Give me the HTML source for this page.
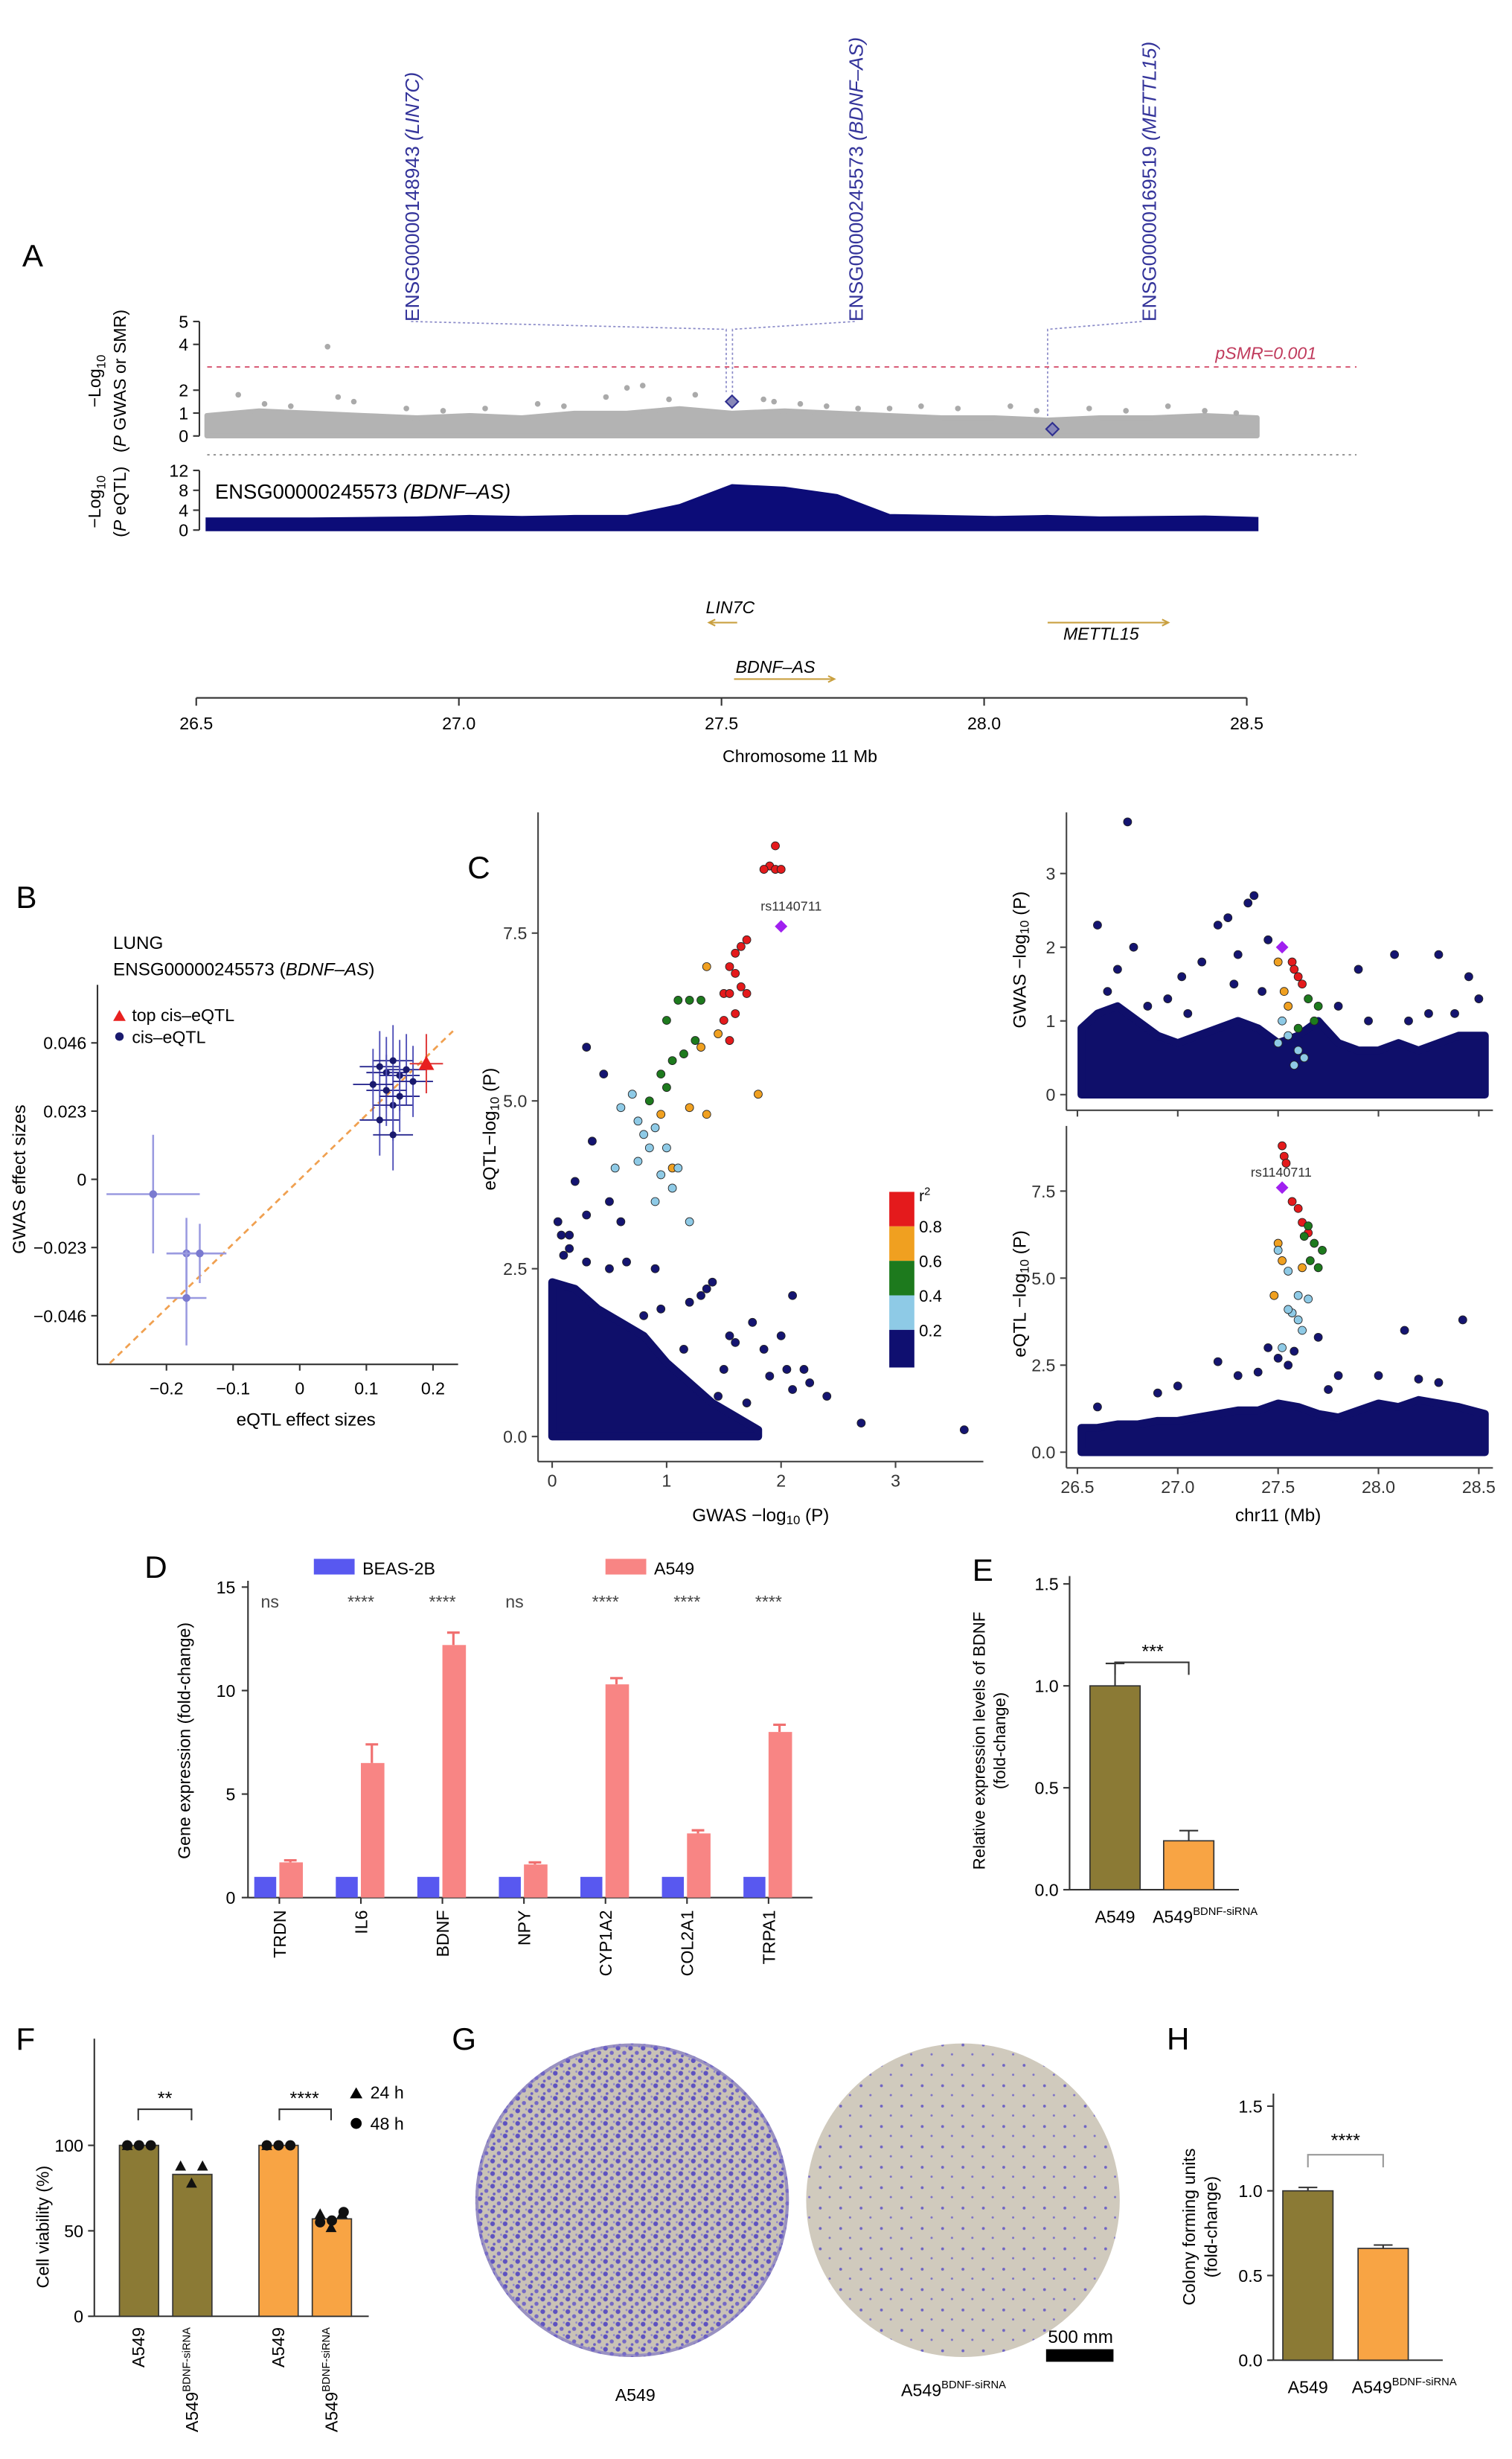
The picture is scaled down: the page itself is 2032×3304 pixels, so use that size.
<!DOCTYPE html>
<html><head><meta charset="utf-8"><style>
html,body{margin:0;padding:0;background:#fff;}
svg{display:block;font-family:"Liberation Sans",Arial,sans-serif;}
</style></head><body>
<svg id="fig" width="2032" height="3304" viewBox="0 0 964 1568" xmlns="http://www.w3.org/2000/svg">
<defs>
<pattern id="dense" width="8" height="8" patternUnits="userSpaceOnUse">
<rect width="8" height="8" fill="#c9c2b6"/><circle cx="2" cy="2" r="1.5" fill="#5e52c0"/><circle cx="6" cy="5" r="1.3" fill="#7468c6"/><circle cx="3" cy="7" r="0.9" fill="#6a5ec4"/><circle cx="7.5" cy="1" r="0.7" fill="#8f86cc"/></pattern>
<pattern id="sparse" width="13" height="13" patternUnits="userSpaceOnUse">
<rect width="13" height="13" fill="#d0cabd"/><circle cx="3" cy="4" r="0.9" fill="#6f64c4"/><circle cx="9" cy="10" r="0.7" fill="#7d72c8"/></pattern>
</defs>

<!-- PANEL A -->
<g>
<text x="14" y="170" font-size="20">A</text>
<g fill="#33339a" font-size="12.5">
<text transform="translate(267,205) rotate(-90)">ENSG00000148943 <tspan font-style="italic">(LIN7C)</tspan></text>
<text transform="translate(550,205) rotate(-90)">ENSG00000245573 <tspan font-style="italic">(BDNF–AS)</tspan></text>
<text transform="translate(737,205) rotate(-90)">ENSG00000169519 <tspan font-style="italic">(METTL15)</tspan></text>
</g>
<g stroke="#8a8ac8" stroke-width="0.8" stroke-dasharray="1.5,1.5" fill="none">
<polyline points="262,205 463,210 463,250"/><polyline points="545,205 467,210 467,252"/><polyline points="728,205 668,210 668,272"/>
</g>
<g font-size="11">
<text transform="translate(64,243) rotate(-90)" text-anchor="middle">−Log<tspan font-size="8" dy="3">10</tspan></text>
<text transform="translate(80,243) rotate(-90)" text-anchor="middle">(<tspan font-style="italic">P</tspan> GWAS or SMR)</text>
<text transform="translate(64,320) rotate(-90)" text-anchor="middle">−Log<tspan font-size="8" dy="3">10</tspan></text>
<text transform="translate(80,320) rotate(-90)" text-anchor="middle">(<tspan font-style="italic">P</tspan> eQTL)</text>
</g>
<g id="aGwas"></g><g id="aEqtl"></g>
<line x1="132" y1="234" x2="865" y2="234" stroke="#d9607a" stroke-width="1" stroke-dasharray="3,3"/>
<text x="775" y="229" font-size="11" fill="#c03a5c" font-style="italic">pSMR=0.001</text>
<line x1="132" y1="290" x2="865" y2="290" stroke="#999" stroke-width="1" stroke-dasharray="1.5,2.5"/>
<text x="137" y="318" font-size="13">ENSG00000245573 <tspan font-style="italic">(BDNF–AS)</tspan></text>
<g font-size="11" font-style="italic">
<text x="450" y="391">LIN7C</text>
<line x1="452" y1="397" x2="470" y2="397" stroke="#c9a040"/>
<polyline points="456,395 452,397 456,399" fill="none" stroke="#c9a040"/>
<text x="678" y="408">METTL15</text>
<line x1="668" y1="397" x2="745" y2="397" stroke="#c9a040"/>
<polyline points="741,395 745,397 741,399" fill="none" stroke="#c9a040"/>
<text x="469" y="429">BDNF–AS</text>
<line x1="468" y1="433" x2="532" y2="433" stroke="#c9a040"/>
<polyline points="528,431 532,433 528,435" fill="none" stroke="#c9a040"/>
</g>
<g id="aXaxis"></g>
<text x="510" y="486" font-size="11" text-anchor="middle">Chromosome 11 Mb</text>
</g>

<!-- PANEL B -->
<g>
<text x="10" y="579" font-size="20">B</text>
<text x="72" y="605" font-size="11.5">LUNG</text>
<text x="72" y="622" font-size="11.5">ENSG00000245573 (<tspan font-style="italic">BDNF–AS</tspan>)</text>
<polygon points="72,651 76,644 80,651" fill="#e8201f"/>
<text x="84" y="651" font-size="11">top cis–eQTL</text>
<circle cx="76" cy="661" r="2.7" fill="#1a1a6e"/>
<text x="84" y="665" font-size="11">cis–eQTL</text>
<g id="bPlot"></g>
<text transform="translate(16,752) rotate(-90)" font-size="11.5" text-anchor="middle">GWAS effect sizes</text>
<text x="195" y="909" font-size="11.5" text-anchor="middle">eQTL effect sizes</text>
</g>

<!-- PANEL C -->
<g>
<text x="298" y="560" font-size="20">C</text>
<g id="cLeft"></g><g id="cRT"></g><g id="cRB"></g>
<text transform="translate(316,720) rotate(-90)" font-size="11.5" text-anchor="middle">eQTL−log<tspan font-size="8" dy="2">10</tspan><tspan dy="-2"> (P)</tspan></text>
<text x="485" y="970" font-size="11.5" text-anchor="middle">GWAS −log<tspan font-size="8" dy="2">10</tspan><tspan dy="-2"> (P)</tspan></text>
<text transform="translate(654,612) rotate(-90)" font-size="11.5" text-anchor="middle">GWAS −log<tspan font-size="8" dy="2">10</tspan><tspan dy="-2"> (P)</tspan></text>
<text transform="translate(654,825) rotate(-90)" font-size="11.5" text-anchor="middle">eQTL −log<tspan font-size="8" dy="2">10</tspan><tspan dy="-2"> (P)</tspan></text>
<text x="815" y="970" font-size="11.5" text-anchor="middle">chr11 (Mb)</text>
<g>
<rect x="567" y="760" width="16" height="22" fill="#e41a1c"/><rect x="567" y="782" width="16" height="22" fill="#f0a020"/>
<rect x="567" y="804" width="16" height="22" fill="#1d7a1d"/><rect x="567" y="826" width="16" height="22" fill="#8ecae6"/>
<rect x="567" y="848" width="16" height="24" fill="#0f0f70"/>
<text x="586" y="766" font-size="10">r<tspan font-size="7" dy="-4">2</tspan></text>
<g font-size="10.5"><text x="586" y="786">0.8</text><text x="586" y="808">0.6</text><text x="586" y="830">0.4</text><text x="586" y="852">0.2</text></g>
</g>
</g>

<!-- PANEL D -->
<g>
<text x="92" y="1006" font-size="20">D</text>
<rect x="200" y="994" width="26" height="10" fill="#5858f0"/>
<text x="231" y="1004" font-size="11">BEAS-2B</text>
<rect x="386" y="994" width="26" height="10" fill="#f88584"/>
<text x="417" y="1004" font-size="11">A549</text>
<g id="dPlot"></g>
<text transform="translate(121,1110) rotate(-90)" font-size="11" text-anchor="middle">Gene expression (fold-change)</text>
</g>

<!-- PANEL E -->
<g>
<text x="620" y="1008" font-size="20">E</text>
<g id="ePlot"></g>
<text transform="translate(628,1110) rotate(-90)" font-size="10.5" text-anchor="middle">Relative expression levels of BDNF</text>
<text transform="translate(641,1110) rotate(-90)" font-size="10.5" text-anchor="middle">(fold-change)</text>
</g>

<!-- PANEL F -->
<g>
<text x="10" y="1307" font-size="20">F</text>
<g id="fPlot"></g>
<text transform="translate(31,1420) rotate(-90)" font-size="11" text-anchor="middle">Cell viability (%)</text>
<polygon points="223,1338 227,1331 231,1338" fill="#000"/>
<text x="236" y="1338" font-size="11">24 h</text>
<circle cx="227" cy="1354" r="3.5" fill="#000"/>
<text x="236" y="1358" font-size="11">48 h</text>
</g>

<!-- PANEL G -->
<g>
<text x="288" y="1307" font-size="20">G</text>
<circle cx="403" cy="1403" r="100" fill="url(#dense)"/>
<circle cx="403" cy="1403" r="99" fill="none" stroke="#7a70c8" stroke-width="2" opacity="0.6"/>
<circle cx="614" cy="1403" r="100" fill="url(#sparse)"/>
<rect x="667" y="1498" width="43" height="8" fill="#000"/>
<text x="689" y="1494" font-size="11.5" text-anchor="middle">500 mm</text>
<text x="405" y="1531" font-size="11" text-anchor="middle">A549</text>
<text x="608" y="1528" font-size="11" text-anchor="middle">A549<tspan font-size="7" dy="-5">BDNF-siRNA</tspan></text>
</g>

<!-- PANEL H -->
<g>
<text x="744" y="1307" font-size="20">H</text>
<g id="hPlot"></g>
<text transform="translate(762,1420) rotate(-90)" font-size="11" text-anchor="middle">Colony forming units</text>
<text transform="translate(776,1420) rotate(-90)" font-size="11" text-anchor="middle">(fold-change)</text>
</g>
</svg>

<script>
// ---------- DATA ----------
// Panel A
const aBinMb=[26.52,26.62,26.72,26.82,26.92,27.02,27.12,27.22,27.32,27.42,27.52,27.62,27.72,27.82,27.92,28.02,28.12,28.22,28.32,28.42,28.52];
const aGwasTop=[0.9,1.1,1.0,0.9,0.8,0.9,0.8,1.0,1.0,1.2,1.0,1.1,1.0,0.9,0.8,0.8,0.7,0.8,0.8,0.9,0.8];
const aGwasOutMb=[26.58,26.63,26.68,26.75,26.77,26.8,26.9,26.97,27.05,27.15,27.2,27.28,27.32,27.35,27.4,27.45,27.58,27.6,27.65,27.7,27.76,27.82,27.88,27.95,28.05,28.1,28.2,28.27,28.35,28.42,28.48];
const aGwasOutP=[1.8,1.4,1.3,3.9,1.7,1.5,1.2,1.1,1.2,1.4,1.3,1.7,2.1,2.2,1.6,1.8,1.6,1.5,1.4,1.3,1.2,1.2,1.3,1.2,1.3,1.1,1.2,1.1,1.3,1.1,1.0];
const aSmrMb=[27.52,28.13];
const aSmrP=[1.5,0.3];
const aEqtlTop=[2.3,2.3,2.3,2.4,2.5,2.8,2.6,2.8,2.8,5.0,9.0,8.5,7.0,3.0,2.8,2.6,2.8,2.5,2.6,2.7,2.4];
const aXTicks=[26.5,27.0,27.5,28.0,28.5];
const aXTickLabels=["26.5","27.0","27.5","28.0","28.5"];
const aGwasTicks=[0,1,2,4,5];
const aEqtlTicks=[0,4,8,12];
// Panel B
const bEqtl=[0.12,0.13,0.14,0.15,0.16,0.13,0.14,0.12,0.15,0.17,0.11,0.14];
const bGwas=[0.038,0.036,0.040,0.035,0.037,0.030,0.025,0.020,0.028,0.033,0.032,0.015];
const bEqtlLight=[-0.22,-0.17,-0.15,-0.17];
const bGwasLight=[-0.005,-0.025,-0.025,-0.04];
const bXErrLight=[0.07,0.03,0.04,0.03];
const bYErrLight=[0.02,0.012,0.01,0.016];
const bTopEqtl=[0.19]; const bTopGwas=[0.039];
const bXTicks=[-0.2,-0.1,0,0.1,0.2]; const bXTickLabels=["−0.2","−0.1","0","0.1","0.2"];
const bYTicks=[0.046,0.023,0,-0.023,-0.046]; const bYTickLabels=["0.046","0.023","0","−0.023","−0.046"];
// Panel C left
const cCloudX=[0,0.2,0.4,0.6,0.8,1.0,1.2,1.4,1.6,1.8];
const cCloudTop=[2.3,2.2,1.9,1.7,1.5,1.1,0.8,0.5,0.3,0.1];
const cPtsX=[1.95,1.9,1.95,2.0,1.85,1.65,1.7,1.6,1.55,1.6,1.65,1.5,1.55,1.7,1.5,1.55,1.6, 1.35,1.45,1.3,1.2,1.35,1.05,1.8,0.95, 1.1,1.2,1.3,1.0,1.15,1.05,0.95,1.25,0.85,1.0, 0.7,0.75,0.8,0.9,0.85,1.0,1.1,0.75,0.95,0.6,0.55,1.05,0.9,1.2, 0.3,0.45,0.35,0.2,0.5,0.15,0.6,0.9,1.4,1.75,2.0,2.2,2.4,2.7,3.6,1.5,1.2,2.1, 0.05,0.08,0.1,0.3,0.5,0.65,0.8,0.95,1.3,1.35,1.55,1.6,1.85,2.05,2.25,1.9,2.1,1.7,1.45,1.15,0.3,0.15];
const cPtsY=[8.8,8.5,8.45,8.45,8.45,7.3,7.4,7.2,7.0,6.9,6.7,6.6,6.6,6.6,6.2,5.9,6.3, 7.0,6.0,5.8,4.9,4.8,4.0,5.1,4.8, 6.5,6.5,6.5,6.2,5.7,5.6,5.4,5.9,5.0,5.2, 5.1,4.7,4.5,4.6,4.3,4.3,4.0,4.1,3.9,4.9,4.0,3.7,3.5,3.2, 5.8,5.4,4.4,3.8,3.5,3.0,3.2,2.5,2.3,1.7,1.5,1.0,0.6,0.2,0.1,1.0,2.0,2.1, 3.2,3.0,2.7,2.6,2.5,2.6,1.8,1.9,2.1,2.2,1.5,1.4,1.3,1.0,0.8,0.9,0.7,0.5,0.6,1.3,3.3,2.8];
const cPtsLD=[4,4,4,4,4,4,4,4,4,4,4,4,4,4,4,4,4, 3,3,3,3,3,3,3,3, 2,2,2,2,2,2,2,2,2,2, 1,1,1,1,1,1,1,1,1,1,1,1,1,1, 0,0,0,0,0,0,0,0,0,0,0,0,0,0,0,0,0,0, 0,0,0,0,0,0,0,0,0,0,0,0,0,0,0,0,0,0,0,0,0,0];
const cLeadGwas=[2.0], cLeadEqtl=[7.6];
const cLXTicks=[0,1,2,3]; const cLYTicks=[0,2.5,5,7.5]; const cLYTickLabels=["0.0","2.5","5.0","7.5"];
// Panel C right
const cRBinMb=[26.52,26.6,26.7,26.8,26.9,27.0,27.1,27.2,27.3,27.4,27.5,27.6,27.7,27.8,27.9,28.0,28.1,28.2,28.3,28.4,28.53];
const cRTTop=[0.9,1.1,1.2,1.0,0.8,0.7,0.8,0.9,1.0,0.9,0.7,0.8,1.0,0.7,0.6,0.6,0.7,0.6,0.7,0.8,0.8];
const cRTOutMb=[26.75,27.38,27.35,27.25,27.2,26.6,27.45,28.3,27.9,28.08,27.12,26.7,27.02,28.45, 26.65,26.85,26.95,27.05,27.28,27.42,27.8,27.95,28.15,28.25,28.38,28.5,27.3,26.78];
const cRTOutP=[3.7,2.7,2.6,2.4,2.3,2.3,2.1,1.9,1.7,1.9,1.8,1.7,1.6,1.6, 1.4,1.2,1.3,1.1,1.5,1.4,1.2,1.0,1.0,1.1,1.1,1.3,1.9,2.0];
const cRTColMb=[27.57,27.6,27.62,27.58,27.53,27.55,27.5,27.65,27.68,27.7,27.6,27.55,27.6,27.5,27.58,27.63,27.52];
const cRTColP=[1.8,1.6,1.5,1.7,1.4,1.2,1.8,1.3,1.0,1.2,0.9,0.8,0.6,0.7,0.4,0.5,1.0];
const cRTColLD=[4,4,4,4,3,3,3,2,2,2,2,1,1,1,1,1,1];
const cRTLeadMb=[27.52], cRTLeadP=[2.0];
const cRBTop=[0.7,0.7,0.8,0.8,0.9,0.9,1.0,1.1,1.2,1.2,1.4,1.3,1.1,1.0,1.2,1.4,1.3,1.5,1.4,1.3,1.1];
const cRBColMb=[27.52,27.53,27.54,27.57,27.6,27.62,27.65, 27.65,27.68,27.72,27.7,27.63,27.66, 27.5,27.52,27.48,27.62, 27.5,27.55,27.6,27.57,27.62,27.55,27.6,27.65,27.52, 27.55,27.7,28.0,28.13,28.42,27.2,27.4,27.8,27.45, 27.0,26.9,27.3,27.5,27.58,27.75,28.2,28.3,26.6];
const cRBColP=[8.8,8.5,8.3,7.2,7.0,6.6,6.3, 6.5,6.0,5.8,5.3,6.2,5.5, 6.0,5.5,4.5,5.3, 5.8,5.2,4.5,4.0,3.5,4.1,3.8,4.4,3.0, 2.5,3.3,2.2,3.5,3.8,2.6,2.3,2.2,3.0, 1.9,1.7,2.2,2.7,2.9,1.8,2.1,2.0,1.3];
const cRBColLD=[4,4,4,4,4,4,4, 2,2,2,2,2,2, 3,3,3,3, 1,1,1,1,1,1,1,1,1, 0,0,0,0,0,0,0,0,0, 0,0,0,0,0,0,0,0,0];
const cRBLeadMb=[27.52], cRBLeadP=[7.6];
const cRXTicks=[26.5,27.0,27.5,28.0,28.5]; const cRTYTicks=[0,1,2,3]; const cRBYTicks=[0,2.5,5,7.5];
// Panel D
const dGenes=["TRDN","IL6","BDNF","NPY","CYP1A2","COL2A1","TRPA1"];
const dBeas=[1,1,1,1,1,1,1];
const dA549=[1.7,6.5,12.2,1.6,10.3,3.1,8.0];
const dA549Err=[0.1,0.9,0.6,0.1,0.3,0.15,0.35];
const dSig=["ns","****","****","ns","****","****","****"];
const dYTicks=[0,5,10,15];
// Panel E
const eGroups=["A549","A549BDNF"]; const eVals=[1.0,0.24]; const eErr=[0.11,0.05];
const eYTicks=[0,0.5,1.0,1.5]; const eYTickLabels=["0.0","0.5","1.0","1.5"];
// Panel F
const fVals=[100,83,100,57];
const f24=[[100,100,100],[88,78,88],[100,100,100],[60,52,60]];
const f48=[[100,100,100],[85,75,88],[100,100,100],[55,56,61]];
const fYTicks=[0,50,100];
// Panel H
const hVals=[1.0,0.66]; const hErr=[0.02,0.02];
const hYTicks=[0,0.5,1.0,1.5]; const hYTickLabels=["0.0","0.5","1.0","1.5"];

// ---------- HELPERS ----------
const NS="http://www.w3.org/2000/svg";
function mk(parent,tag,attrs,txt){const e=document.createElementNS(NS,tag);for(const k in attrs)e.setAttribute(k,attrs[k]);if(txt!==undefined)e.textContent=txt;parent.appendChild(e);return e;}
const LDC=["#141470","#8ecae6","#1d7a1d","#f0a020","#e41a1c"];

// ---------- PANEL A ----------
(function(){
 const ax=v=>125+(v-26.5)*335, gy=v=>278-v*14.6, ey=v=>338-v*3.17;
 const g=document.getElementById('aGwas');
 mk(g,'line',{x1:127,y1:205,x2:127,y2:278,stroke:'#333'});
 aGwasTicks.forEach(t=>{mk(g,'line',{x1:123,y1:gy(t),x2:127,y2:gy(t),stroke:'#333'});
  const l=mk(g,'text',{x:120,y:gy(t)+4,'font-size':11,'text-anchor':'end'},String(t));
  });
 let d='M'+ax(aBinMb[0])+','+gy(0);
 aBinMb.forEach((m,i)=>{d+=' L'+ax(m)+','+gy(aGwasTop[i]);});
 d+=' L'+ax(aBinMb[aBinMb.length-1])+','+gy(0)+' Z';
 const band=mk(g,'path',{d:d,fill:'#b3b3b3',stroke:'#b3b3b3','stroke-width':3,'stroke-linejoin':'round'});
 
 aGwasOutMb.forEach((m,i)=>{const c=mk(g,'circle',{cx:ax(m),cy:gy(aGwasOutP[i]),r:1.8,fill:'#aaa'});
  });
 aSmrMb.forEach((m,i)=>{const x=ax(m),y=gy(aSmrP[i]);
  const p=mk(g,'polygon',{points:`${x},${y-4} ${x+4},${y} ${x},${y+4} ${x-4},${y}`,fill:'#8888b8',stroke:'#303090','stroke-width':1});
  });
 const e=document.getElementById('aEqtl');
 mk(e,'line',{x1:127,y1:300,x2:127,y2:338,stroke:'#333'});
 aEqtlTicks.forEach(t=>{mk(e,'line',{x1:123,y1:ey(t),x2:127,y2:ey(t),stroke:'#333'});
  const l=mk(e,'text',{x:120,y:ey(t)+4,'font-size':11,'text-anchor':'end'},String(t));
  });
 let d2='M'+ax(aBinMb[0])+','+ey(0);
 aBinMb.forEach((m,i)=>{d2+=' L'+ax(m)+','+ey(aEqtlTop[i]);});
 d2+=' L'+ax(aBinMb[aBinMb.length-1])+','+ey(0)+' Z';
 const b2=mk(e,'path',{d:d2,fill:'#0c0c78',stroke:'#0c0c78','stroke-width':1.5});
 
 const xa=document.getElementById('aXaxis');
 mk(xa,'line',{x1:ax(26.5),y1:445,x2:ax(28.5),y2:445,stroke:'#333'});
 aXTicks.forEach((t,i)=>{mk(xa,'line',{x1:ax(t),y1:445,x2:ax(t),y2:450,stroke:'#333'});
  const l=mk(xa,'text',{x:ax(t),y:465,'font-size':11,'text-anchor':'middle'},aXTickLabels[i]);
  });
})();

// ---------- PANEL B ----------
(function(){
 const g=document.getElementById('bPlot');
 const x=v=>191+v*425, y=v=>752-v*1891;
 mk(g,'line',{x1:62,y1:628,x2:62,y2:870,stroke:'#333'});
 mk(g,'line',{x1:62,y1:870,x2:292,y2:870,stroke:'#333'});
 bXTicks.forEach((t,i)=>{mk(g,'line',{x1:x(t),y1:870,x2:x(t),y2:874,stroke:'#333'});
  const l=mk(g,'text',{x:x(t),y:889,'font-size':11,'text-anchor':'middle'},bXTickLabels[i]);
  });
 bYTicks.forEach((t,i)=>{mk(g,'line',{x1:58,y1:y(t),x2:62,y2:y(t),stroke:'#333'});
  const l=mk(g,'text',{x:55,y:y(t)+4,'font-size':11,'text-anchor':'end'},bYTickLabels[i]);
  });
 const ln=mk(g,'line',{x1:x(-0.285),y1:y(-0.062),x2:x(0.23),y2:y(0.05),stroke:'#f0a050','stroke-width':1.3,'stroke-dasharray':'4,3'});
 
 bEqtlLight.forEach((v,i)=>{const cx=x(v),cy=y(bGwasLight[i]);
  mk(g,'line',{x1:x(v-bXErrLight[i]),y1:cy,x2:x(v+bXErrLight[i]),y2:cy,stroke:'#9a9ae0','stroke-width':1.2});
  mk(g,'line',{x1:cx,y1:y(bGwasLight[i]-bYErrLight[i]),x2:cx,y2:y(bGwasLight[i]+bYErrLight[i]),stroke:'#9a9ae0','stroke-width':1.2});
  const c=mk(g,'circle',{cx:cx,cy:cy,r:2.5,fill:'#7a7ad0'});
  });
 bEqtl.forEach((v,i)=>{const cx=x(v),cy=y(bGwas[i]);
  mk(g,'line',{x1:x(v-0.03),y1:cy,x2:x(v+0.03),y2:cy,stroke:'#2a2a90','stroke-width':0.9});
  mk(g,'line',{x1:cx,y1:y(bGwas[i]-0.012),x2:cx,y2:y(bGwas[i]+0.012),stroke:'#5050b8','stroke-width':0.9});
  const c=mk(g,'circle',{cx:cx,cy:cy,r:2.2,fill:'#1a1a6e'});
  });
 bTopEqtl.forEach((v,i)=>{const cx=x(v),cy=y(bTopGwas[i]);
  mk(g,'line',{x1:x(v-0.025),y1:cy,x2:x(v+0.025),y2:cy,stroke:'#e04040'});
  mk(g,'line',{x1:cx,y1:y(bTopGwas[i]-0.01),x2:cx,y2:y(bTopGwas[i]+0.01),stroke:'#e04040'});
  const p=mk(g,'polygon',{points:`${cx-5},${cy+4} ${cx},${cy-5} ${cx+5},${cy+4}`,fill:'#e8201f'});
  });
})();

// ---------- PANEL C ----------
function scat(g,x,y,X,Y,LD,r,name){X.forEach((v,i)=>{const c=mk(g,'circle',{cx:x(v),cy:y(Y[i]),r:r,fill:LDC[LD[i]],stroke:'#222','stroke-width':0.4});
 });}
function cloud(g,x,y,X,T,name){let d='M'+x(X[0])+','+y(0);X.forEach((m,i)=>{d+=' L'+x(m)+','+y(T[i]);});d+=' L'+x(X[X.length-1])+','+y(0)+' Z';
 const p=mk(g,'path',{d:d,fill:'#0f0f6a',stroke:'#0f0f6a','stroke-width':5,'stroke-linejoin':'round'});
 }
function diamond(g,cx,cy,name){const p=mk(g,'polygon',{points:`${cx},${cy-4} ${cx+4},${cy} ${cx},${cy+4} ${cx-4},${cy}`,fill:'#a020f0'});
 }
(function(){
 const g=document.getElementById('cLeft');
 const x=v=>352+v*73, y=v=>916-v*42.8;
 mk(g,'line',{x1:343,y1:518,x2:343,y2:932,stroke:'#444'});
 mk(g,'line',{x1:343,y1:932,x2:627,y2:932,stroke:'#444'});
 cLXTicks.forEach(t=>{mk(g,'line',{x1:x(t),y1:932,x2:x(t),y2:936,stroke:'#444'});
  const l=mk(g,'text',{x:x(t),y:948,'font-size':11,'text-anchor':'middle',fill:'#333'},String(t));
  });
 cLYTicks.forEach((t,i)=>{mk(g,'line',{x1:339,y1:y(t),x2:343,y2:y(t),stroke:'#444'});
  const l=mk(g,'text',{x:336,y:y(t)+4,'font-size':11,'text-anchor':'end',fill:'#333'},cLYTickLabels[i]);
  });
 cloud(g,x,y,cCloudX,cCloudTop,'c-left-dense-points');
 scat(g,x,y,cPtsX,cPtsY,cPtsLD,2.6,'c-left-snp-point');
 diamond(g,x(cLeadGwas[0]),y(cLeadEqtl[0]),'lead-snp-diamond');
 mk(g,'text',{x:x(cLeadGwas[0])-13,y:y(cLeadEqtl[0])-10,'font-size':8.5,fill:'#333'},'rs1140711');
})();
(function(){
 const x=v=>687+(v-26.5)*128;
 const g=document.getElementById('cRT'); const y=v=>698-v*47;
 mk(g,'line',{x1:680,y1:518,x2:680,y2:708,stroke:'#444'});
 mk(g,'line',{x1:680,y1:708,x2:952,y2:708,stroke:'#444'});
 cRXTicks.forEach(t=>mk(g,'line',{x1:x(t),y1:708,x2:x(t),y2:712,stroke:'#444'}));
 cRTYTicks.forEach(t=>{mk(g,'line',{x1:676,y1:y(t),x2:680,y2:y(t),stroke:'#444'});
  const l=mk(g,'text',{x:673,y:y(t)+4,'font-size':11,'text-anchor':'end',fill:'#333'},String(t));
  });
 cloud(g,x,y,cRBinMb,cRTTop,'c-rt-dense-points');
 scat(g,x,y,cRTOutMb,cRTOutP,cRTOutMb.map(()=>0),2.6,'c-rt-snp-point');
 scat(g,x,y,cRTColMb,cRTColP,cRTColLD,2.6,'c-rt-snp-point');
 diamond(g,x(cRTLeadMb[0]),y(cRTLeadP[0]),'lead-snp-diamond');
 const h=document.getElementById('cRB'); const y2=v=>926-v*22.2;
 mk(h,'line',{x1:680,y1:718,x2:680,y2:936,stroke:'#444'});
 mk(h,'line',{x1:680,y1:936,x2:952,y2:936,stroke:'#444'});
 cRXTicks.forEach(t=>{mk(h,'line',{x1:x(t),y1:936,x2:x(t),y2:940,stroke:'#444'});
  const l=mk(h,'text',{x:x(t),y:952,'font-size':11,'text-anchor':'middle',fill:'#333'},t.toFixed(1));
  });
 cRBYTicks.forEach(t=>{mk(h,'line',{x1:676,y1:y2(t),x2:680,y2:y2(t),stroke:'#444'});
  const l=mk(h,'text',{x:673,y:y2(t)+4,'font-size':11,'text-anchor':'end',fill:'#333'},t.toFixed(1));
  });
 cloud(h,x,y2,cRBinMb,cRBTop,'c-rb-dense-points');
 scat(h,x,y2,cRBColMb,cRBColP,cRBColLD,2.6,'c-rb-snp-point');
 diamond(h,x(cRBLeadMb[0]),y2(cRBLeadP[0]),'lead-snp-diamond');
 mk(h,'text',{x:x(cRBLeadMb[0])-20,y:y2(cRBLeadP[0])-7,'font-size':8.5,fill:'#333'},'rs1140711');
})();

// ---------- PANEL D ----------
(function(){
 const g=document.getElementById('dPlot');
 const y=v=>1210-v*13.2, cx=i=>178+i*52;
 mk(g,'line',{x1:158,y1:1008,x2:158,y2:1210,stroke:'#333'});
 mk(g,'line',{x1:158,y1:1210,x2:518,y2:1210,stroke:'#333'});
 dYTicks.forEach(t=>{mk(g,'line',{x1:154,y1:y(t),x2:158,y2:y(t),stroke:'#333'});
  const l=mk(g,'text',{x:150,y:y(t)+4,'font-size':11,'text-anchor':'end'},String(t));
  });
 dGenes.forEach((n,i)=>{const c=cx(i);
  const b1=mk(g,'rect',{x:c-16,y:y(dBeas[i]),width:14,height:y(0)-y(dBeas[i]),fill:'#5858f0'});
  
  const top=y(dA549[i]+dA549Err[i]);
  mk(g,'line',{x1:c+7,y1:top,x2:c+7,y2:y(dA549[i]),stroke:'#f07070','stroke-width':1.5});
  mk(g,'line',{x1:c+3,y1:top,x2:c+11,y2:top,stroke:'#f07070','stroke-width':1.5});
  const b2=mk(g,'rect',{x:c,y:y(dA549[i]),width:15,height:y(0)-y(dA549[i]),fill:'#f88584'});
  
  mk(g,'line',{x1:c,y1:1210,x2:c,y2:1214,stroke:'#333'});
  const l=mk(g,'text',{transform:`translate(${c+4},1218) rotate(-90)`,'font-size':11,'text-anchor':'end'},n);
  
  const s=mk(g,'text',{x:dSig[i]=='ns'?c-6:c,y:1025,'font-size':11,'text-anchor':'middle',fill:'#444'},dSig[i]);
  });
})();

// ---------- BAR HELPER ----------
function bars(g,y0,y,xs,w,vals,errs,cols,name){vals.forEach((v,i)=>{
 if(errs){const t=y(v+errs[i]);mk(g,'line',{x1:xs[i]+w/2,y1:t,x2:xs[i]+w/2,y2:y(v),stroke:'#333'});mk(g,'line',{x1:xs[i]+w/2-6,y1:t,x2:xs[i]+w/2+6,y2:t,stroke:'#333'});}
 const r=mk(g,'rect',{x:xs[i],y:y(v),width:w,height:y0-y(v),fill:cols[i],stroke:'#333','stroke-width':0.8});
 });}
function yaxis(g,x0,y,ticks,labels,top,bottom,name){mk(g,'line',{x1:x0,y1:top,x2:x0,y2:bottom,stroke:'#333'});
 ticks.forEach((t,i)=>{mk(g,'line',{x1:x0-4,y1:y(t),x2:x0,y2:y(t),stroke:'#333'});
 const l=mk(g,'text',{x:x0-7,y:y(t)+4,'font-size':11,'text-anchor':'end'},labels[i]);
 });}
const OLV='#8b7a35', ORG='#f8a444';

// ---------- PANEL E ----------
(function(){
 const g=document.getElementById('ePlot'); const y=v=>1205-v*130;
 yaxis(g,682,y,eYTicks,eYTickLabels,1005,1205,'e-y-tick-label');
 mk(g,'line',{x1:682,y1:1205,x2:790,y2:1205,stroke:'#333'});
 bars(g,1205,y,[695,742],32,eVals,eErr,[OLV,ORG],'bar-e');
 mk(g,'polyline',{points:'711,1068 711,1060 758,1060 758,1068',fill:'none',stroke:'#333'});
 mk(g,'text',{x:735,y:1057,'font-size':12,'text-anchor':'middle'},'***');
 mk(g,'text',{x:711,y:1226,'font-size':11,'text-anchor':'middle'},'A549');
 const t=mk(g,'text',{x:735,y:1226,'font-size':11},'A549');
 mk(t,'tspan',{'font-size':7,dy:-5},'BDNF-siRNA');
})();

// ---------- PANEL F ----------
(function(){
 const g=document.getElementById('fPlot'); const y=v=>1477-v*1.09;
 yaxis(g,60,y,fYTicks,fYTicks.map(String),1300,1477,'f-y-tick-label');
 mk(g,'line',{x1:60,y1:1477,x2:235,y2:1477,stroke:'#333'});
 const xs=[76,110,165,199];
 bars(g,1477,y,xs,25,fVals,null,[OLV,OLV,ORG,ORG],'bar-f');
 xs.forEach((x0,i)=>{
  f24[i].forEach((v,j)=>{ if(i%2==0 && j>0) return; const cx=x0+5+j*7, cy=y(v);
   const p=mk(g,'polygon',{points:`${cx-3.5},${cy+3} ${cx},${cy-3.5} ${cx+3.5},${cy+3}`,fill:'#111'});
   });
  f48[i].forEach((v,j)=>{ const cx=x0+5+j*7.5, cy=y(v);
   if(i%2==0 || i==3){const c=mk(g,'circle',{cx:cx,cy:cy,r:3.3,fill:'#111'});}});
  const l=mk(g,'text',{transform:`translate(${x0+16},1484) rotate(-90)`,'font-size':11,'text-anchor':'end'},'A549');
  if(i%2==1){mk(l,'tspan',{'font-size':7,dy:-5},'BDNF-siRNA');}
 });
 mk(g,'polyline',{points:'88,1352 88,1345 122,1345 122,1352',fill:'none',stroke:'#333'});
 mk(g,'text',{x:105,y:1342,'font-size':12,'text-anchor':'middle'},'**');
 mk(g,'polyline',{points:'178,1352 178,1345 211,1345 211,1352',fill:'none',stroke:'#333'});
 mk(g,'text',{x:194,y:1342,'font-size':12,'text-anchor':'middle'},'****');
})();

// ---------- PANEL H ----------
(function(){
 const g=document.getElementById('hPlot'); const y=v=>1505-v*108;
 yaxis(g,812,y,hYTicks,hYTickLabels,1335,1505,'h-y-tick-label');
 mk(g,'line',{x1:812,y1:1505,x2:920,y2:1505,stroke:'#333'});
 bars(g,1505,y,[818,866],32,hVals,hErr,[OLV,ORG],'bar-h');
 mk(g,'polyline',{points:'834,1382 834,1374 882,1374 882,1382',fill:'none',stroke:'#999'});
 mk(g,'text',{x:858,y:1369,'font-size':12,'text-anchor':'middle'},'****');
 mk(g,'text',{x:834,y:1526,'font-size':11,'text-anchor':'middle'},'A549');
 const t=mk(g,'text',{x:862,y:1526,'font-size':11},'A549');
 mk(t,'tspan',{'font-size':7,dy:-5},'BDNF-siRNA');
})();
</script>
</body></html>
